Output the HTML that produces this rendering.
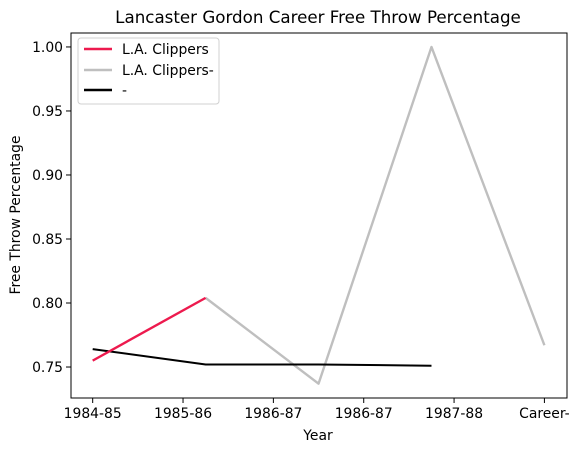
<!DOCTYPE html>
<html><head><meta charset="utf-8"><style>
body{margin:0;background:#fff;font-family:"DejaVu Sans","Liberation Sans",sans-serif;}
svg text{font-family:"DejaVu Sans","Liberation Sans",sans-serif;}
</style></head><body>
<svg id="chart" width="579" height="453" xmlns="http://www.w3.org/2000/svg" style="position:absolute;left:0;top:0"></svg>
<script>
const tickLabels = ["1984-85","1985-86","1986-87","1986-87","1987-88","Career-"];
const yTicks = [0.75,0.80,0.85,0.90,0.95,1.00];
const redX = [0,1.25];
const redY = [0.755,0.804];
const grayX = [1.25,2.5,3.75,5];
const grayY = [0.804,0.737,1.0,0.767];
const blackX = [0,1.25,2.5,3.75];
const blackY = [0.764,0.752,0.752,0.751];

const L=71,R=567,T=33,B=398;
const xMin=-0.24,xMax=5.25,yMin=0.7258,yMax=1.0109;
const sx=v=>L+(v-xMin)/(xMax-xMin)*(R-L);
const sy=v=>B-(v-yMin)/(yMax-yMin)*(B-T);
const svg=document.getElementById('chart');
const NS='http://www.w3.org/2000/svg';
function mk(tag,attrs,parent){const e=document.createElementNS(NS,tag);for(const k in attrs)e.setAttribute(k,attrs[k]);(parent||svg).appendChild(e);return e;}

function series(xs,ys,color,name,w){
  const p=mk('polyline',{points:xs.map((x,i)=>sx(x)+','+sy(ys[i])).join(' '),fill:'none',stroke:color,'stroke-width':w,'stroke-linejoin':'round'});
  
  
}
series(grayX,grayY,'#bfbfbf','series-clippers-dash',2.4);
series(blackX,blackY,'#000000','series-dash',2);
series(redX,redY,'#ed1a4e','series-clippers',2.4);

const frame=mk('rect',{x:L,y:T,width:R-L,height:B-T,fill:'none',stroke:'#000','stroke-width':1});



tickLabels.forEach((t,i)=>{
  const x=sx(i);
  mk('line',{x1:x,x2:x,y1:B,y2:B+5,stroke:'#000'});
  const tx=mk('text',{x:x,y:B+20,'text-anchor':'middle','font-size':13.9});
  tx.textContent=t;
  
  
});
yTicks.forEach(v=>{
  const y=sy(v);
  mk('line',{x1:L-5,x2:L,y1:y,y2:y,stroke:'#000'});
  const tx=mk('text',{x:L-8,y:y+5,'text-anchor':'end','font-size':13.9});
  tx.textContent=v.toFixed(2);
  
  
});
</script>
<svg style="position:absolute;left:0;top:0" width="579" height="453" xmlns="http://www.w3.org/2000/svg">
<text x="318" y="23" text-anchor="middle" font-size="16.7">Lancaster Gordon Career Free Throw Percentage</text>
<text x="318" y="440" text-anchor="middle" font-size="13.9">Year</text>
<text x="20" y="215" text-anchor="middle" font-size="13.9" transform="rotate(-90 20 215)">Free Throw Percentage</text>
<g>
<rect x="78" y="38" width="141" height="66" rx="3" fill="#fff" stroke="#ccc" opacity="0.9"/>
<line x1="84" y1="49" x2="112" y2="49" stroke="#ed1a4e" stroke-width="2.4"/>
<text x="122" y="54" font-size="13.9">L.A. Clippers</text>
<line x1="84" y1="70" x2="112" y2="70" stroke="#bfbfbf" stroke-width="2.4"/>
<text x="122" y="75" font-size="13.9">L.A. Clippers-</text>
<line x1="84" y1="90" x2="112" y2="90" stroke="#000" stroke-width="2.4"/>
<text x="122" y="95" font-size="13.9">-</text>
</g>
</svg>
</body></html>
